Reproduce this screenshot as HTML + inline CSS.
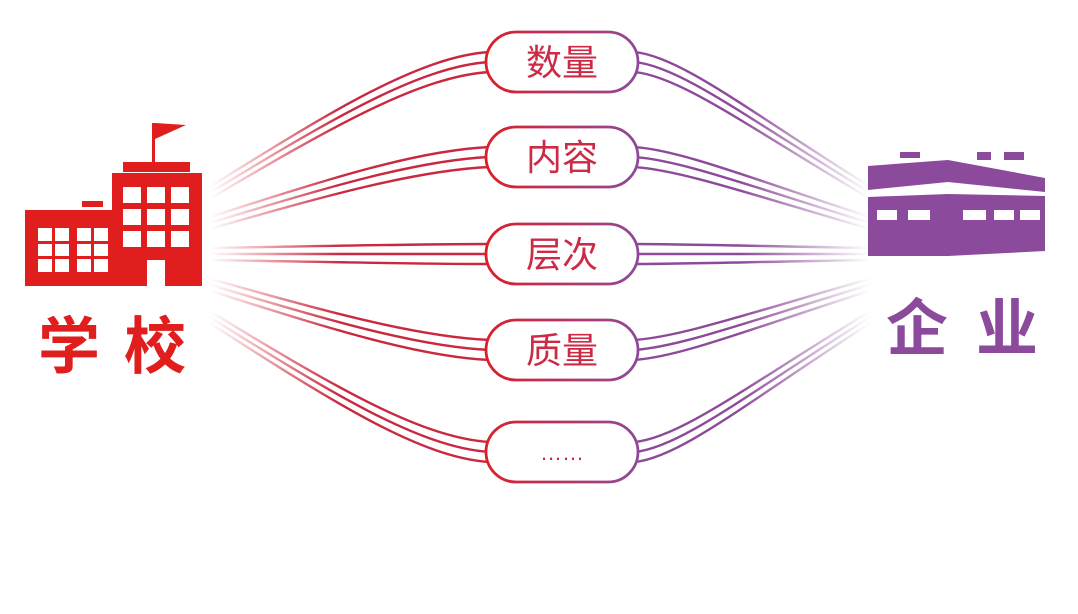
<!DOCTYPE html>
<html><head><meta charset="utf-8"><style>
html,body{margin:0;padding:0;background:#fff;width:1078px;height:614px;overflow:hidden}
</style></head><body>
<svg width="1078" height="614" viewBox="0 0 1078 614" xmlns="http://www.w3.org/2000/svg">
<defs>
<linearGradient id="lg" gradientUnits="userSpaceOnUse" x1="210" y1="0" x2="340" y2="0">
<stop offset="0" stop-color="#d42a3a" stop-opacity="0"/><stop offset="1" stop-color="#c9283f" stop-opacity="1"/></linearGradient>
<linearGradient id="rg" gradientUnits="userSpaceOnUse" x1="870" y1="0" x2="740" y2="0">
<stop offset="0" stop-color="#8e4a9a" stop-opacity="0"/><stop offset="1" stop-color="#8e4a9a" stop-opacity="1"/></linearGradient>
<linearGradient id="pg" gradientUnits="userSpaceOnUse" x1="486" y1="0" x2="638" y2="0">
<stop offset="0" stop-color="#dc1f26"/><stop offset="1" stop-color="#8e4a9a"/></linearGradient>
</defs>
<g fill="none" stroke-width="2.4" stroke="url(#lg)">
<path d="M210,186.6 C330,112 420,56 490,52"/>
<path d="M210,192.6 C330,120 420,66 490,62"/>
<path d="M210,198.6 C330,128 420,76 490,72"/>
<path d="M210,217 C330,178 420,150 490,147"/>
<path d="M210,223 C330,186 420,160 490,157"/>
<path d="M210,229 C330,194 420,170 490,167"/>
<path d="M210,248 C330,246 420,244 490,244"/>
<path d="M210,254 C330,254 420,254 490,254"/>
<path d="M210,260 C330,262 420,264 490,264"/>
<path d="M210,278.7 C330,313 420,337 490,340"/>
<path d="M210,284.7 C330,321 420,347 490,350"/>
<path d="M210,290.7 C330,329 420,357 490,360"/>
<path d="M210,311.4 C330,384 420,438 490,442"/>
<path d="M210,317.4 C330,392 420,448 490,452"/>
<path d="M210,323.4 C330,400 420,458 490,462"/>
</g>
<g fill="none" stroke-width="2.4" stroke="url(#rg)">
<path d="M870,186.6 C750,112 680,56 634,52"/>
<path d="M870,192.6 C750,120 680,66 634,62"/>
<path d="M870,198.6 C750,128 680,76 634,72"/>
<path d="M870,217 C750,178 680,150 634,147"/>
<path d="M870,223 C750,186 680,160 634,157"/>
<path d="M870,229 C750,194 680,170 634,167"/>
<path d="M870,248 C750,246 680,244 634,244"/>
<path d="M870,254 C750,254 680,254 634,254"/>
<path d="M870,260 C750,262 680,264 634,264"/>
<path d="M870,278.7 C750,313 680,337 634,340"/>
<path d="M870,284.7 C750,321 680,347 634,350"/>
<path d="M870,290.7 C750,329 680,357 634,360"/>
<path d="M870,311.4 C750,384 680,438 634,442"/>
<path d="M870,317.4 C750,392 680,448 634,452"/>
<path d="M870,323.4 C750,400 680,458 634,462"/>
</g>
<g stroke="url(#pg)" stroke-width="2.8" fill="#fff">
<rect x="486" y="32" width="152" height="60" rx="30"/>
<rect x="486" y="127" width="152" height="60" rx="30"/>
<rect x="486" y="224" width="152" height="60" rx="30"/>
<rect x="486" y="320" width="152" height="60" rx="30"/>
<rect x="486" y="422" width="152" height="60" rx="30"/>
</g>
<g font-family="'Liberation Sans','Noto Sans CJK SC',sans-serif" font-size="36" text-anchor="middle">
<text x="562" y="75" fill="#cc2a45">数量</text>
<text x="562" y="170" fill="#cc2a45">内容</text>
<text x="562" y="267" fill="#cc2a45">层次</text>
<text x="562" y="363" fill="#cc2a45">质量</text>
<text x="562" y="460" fill="#cc2a45" font-size="22">……</text>
</g>
<g fill="#e11e1e">
<rect x="152" y="123" width="3" height="40"/>
<polygon points="155,123 186,125 155,139"/>
<rect x="123" y="162" width="67" height="10"/>
<rect x="112" y="173" width="90" height="113"/>
<rect x="82" y="201" width="21" height="6"/>
<rect x="25" y="210" width="90" height="76"/>
</g>
<g fill="#fff">
<rect x="123" y="187" width="18" height="16"/><rect x="147" y="187" width="18" height="16"/><rect x="171" y="187" width="18" height="16"/>
<rect x="123" y="209" width="18" height="16"/><rect x="147" y="209" width="18" height="16"/><rect x="171" y="209" width="18" height="16"/>
<rect x="123" y="231" width="18" height="16"/><rect x="147" y="231" width="18" height="16"/><rect x="171" y="231" width="18" height="16"/>
<rect x="147" y="260" width="18" height="26"/>
<rect x="38" y="228" width="31" height="44"/><rect x="77" y="228" width="31" height="44"/>
</g>
<g fill="#e11e1e">
<rect x="52" y="228" width="3" height="44"/><rect x="91" y="228" width="3" height="44"/>
<rect x="38" y="241" width="70" height="3"/><rect x="38" y="256" width="70" height="3"/>
</g>
<text x="38" y="368" font-family="'Liberation Sans','Noto Sans CJK SC',sans-serif" font-weight="bold" font-size="62" letter-spacing="24" fill="#e11e1e">学校</text>
<g fill="#8b4a9b">
<rect x="900" y="152" width="20" height="6"/><rect x="977" y="152" width="14" height="8"/><rect x="1004" y="152" width="20" height="8"/>
<polygon points="868,166 948,160 1045,178 1045,192 948,182 868,190"/>
<polygon points="868,197 948,194 1045,196 1045,251 948,256 868,256"/>
</g>
<g fill="#fff">
<rect x="877" y="210" width="20" height="10"/><rect x="908" y="210" width="22" height="10"/>
<rect x="963" y="210" width="23" height="10"/><rect x="994" y="210" width="20" height="10"/><rect x="1020" y="210" width="20" height="10"/>
</g>
<text x="886" y="350" font-family="'Liberation Sans','Noto Sans CJK SC',sans-serif" font-weight="bold" font-size="62" letter-spacing="28" fill="#8b4a9b">企业</text>
</svg>
</body></html>
